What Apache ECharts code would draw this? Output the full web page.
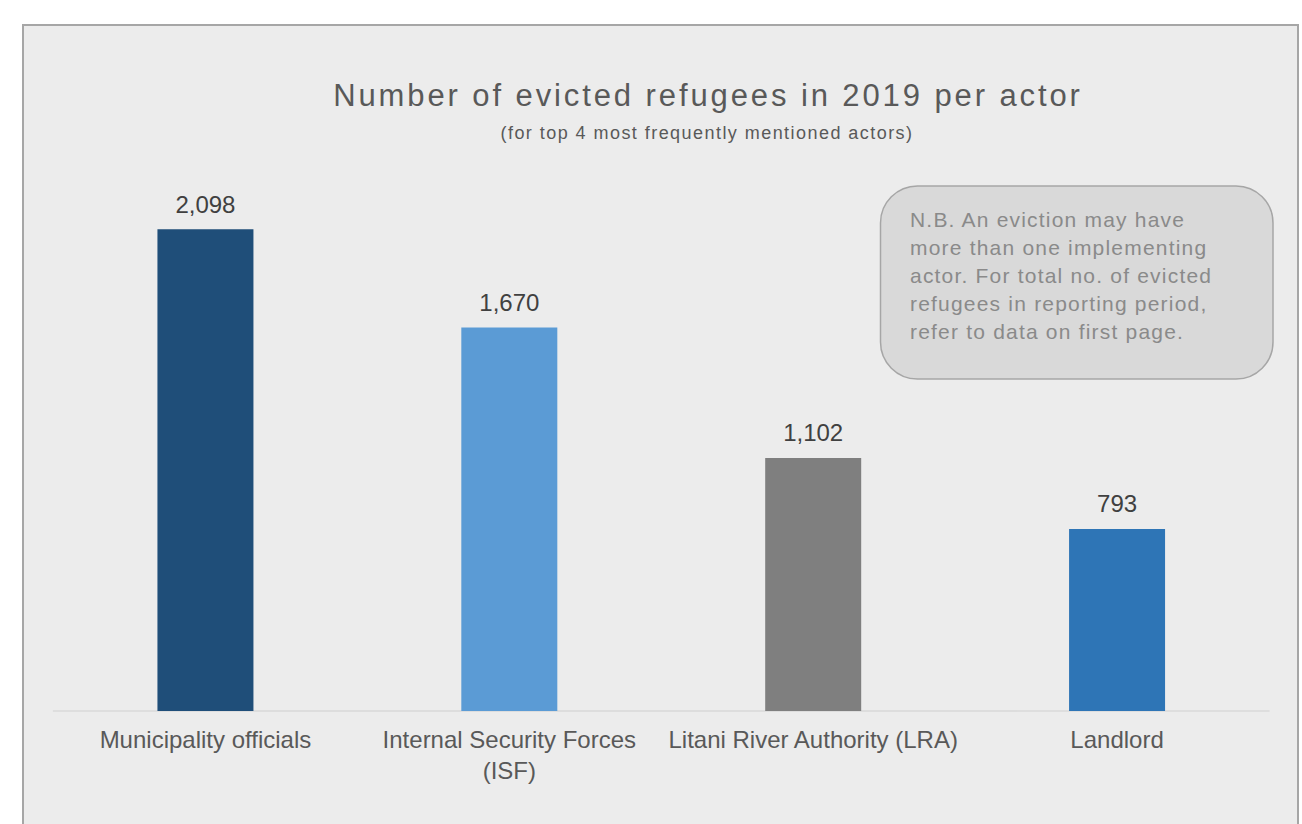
<!DOCTYPE html>
<html>
<head>
<meta charset="utf-8">
<script src="https://cdn.jsdelivr.net/npm/echarts@6/dist/echarts.min.js"></script>
<style>
  html, body { margin: 0; padding: 0; background: #ffffff; }
  #chart { width: 1302px; height: 824px; }
  /* tracking for the heading, subheading and note text */
  #chart svg text[style*="31px"] { letter-spacing: 2.9px; }
  #chart svg text[style*="18px"] { letter-spacing: 1.45px; }
  #chart svg text[style*="21px"] { letter-spacing: 1.2px; }
</style>
</head>
<body>
<div id="chart"></div>
<script>
// Actors and the number of refugees evicted by each in 2019
const actors = [
  'Municipality officials',
  'Internal Security Forces\n(ISF)',
  'Litani River Authority (LRA)',
  'Landlord'
];
const evicted = [2098, 1670, 1102, 793];
const barColors = ['#1f4e79', '#5b9bd5', '#7f7f7f', '#2e75b6'];

const titleText = 'Number of evicted refugees in 2019 per actor';
const subtitleText = '(for top 4 most frequently mentioned actors)';
const noteLines = [
  'N.B. An eviction may have',
  'more than one implementing',
  'actor. For total no. of evicted',
  'refugees in reporting period,',
  'refer to data on first page.'
];

const font = '"Liberation Sans", Arial, sans-serif';
const chart = echarts.init(document.getElementById('chart'), null, { renderer: 'svg' });

chart.setOption({
  backgroundColor: '#ffffff',
  animation: false,
  textStyle: { fontFamily: font },
  graphic: [
    // chart-area panel with its grey frame
    {
      type: 'rect', z: -10, silent: true,
      shape: { x: 23, y: 25, width: 1275, height: 830 },
      style: { fill: '#ececec', stroke: '#a6a6a6', lineWidth: 2 }
    },
    // heading and subheading
    {
      type: 'text', z: 5, silent: true,
      x: 708, y: 95,
      style: {
        text: titleText,
        font: '31px ' + font,
        fill: '#595959',
        textAlign: 'center', textVerticalAlign: 'middle',
        align: 'center', verticalAlign: 'middle'
      }
    },
    {
      type: 'text', z: 5, silent: true,
      x: 707, y: 133,
      style: {
        text: subtitleText,
        font: '18px ' + font,
        fill: '#595959',
        textAlign: 'center', textVerticalAlign: 'middle',
        align: 'center', verticalAlign: 'middle'
      }
    },
    // rounded note box
    {
      type: 'rect', z: 10, silent: true,
      shape: { x: 880.5, y: 186, width: 392.5, height: 193, r: 37 },
      style: { fill: '#d9d9d9', stroke: '#a6a6a6', lineWidth: 1.5 }
    },
    {
      type: 'text', z: 11, silent: true,
      x: 910, y: 205,
      style: {
        text: noteLines.join('\n'),
        font: '21px ' + font,
        fill: '#8a8a8a',
        lineHeight: 28,
        textAlign: 'left', textVerticalAlign: 'top',
        align: 'left', verticalAlign: 'top'
      }
    }
  ],
  grid: { left: 53.5, right: 33, top: 137, bottom: 113, containLabel: false },
  xAxis: {
    type: 'category',
    data: actors,
    axisLine: { show: true, lineStyle: { color: '#d9d9d9', width: 1.5 } },
    axisTick: { show: false },
    axisLabel: {
      interval: 0,
      margin: 13,
      fontSize: 24,
      lineHeight: 31,
      color: '#595959',
      fontFamily: font
    }
  },
  yAxis: {
    type: 'value',
    min: 0, max: 2500,
    show: false,
    splitLine: { show: false }
  },
  series: [{
    type: 'bar',
    barWidth: 96,
    data: evicted.map((v, i) => ({ value: v, itemStyle: { color: barColors[i] } })),
    label: {
      show: true,
      position: 'top',
      distance: 13,
      fontSize: 24,
      color: '#404040',
      fontFamily: font,
      formatter: p => p.value.toLocaleString('en-US')
    }
  }]
});
</script>
</body>
</html>
